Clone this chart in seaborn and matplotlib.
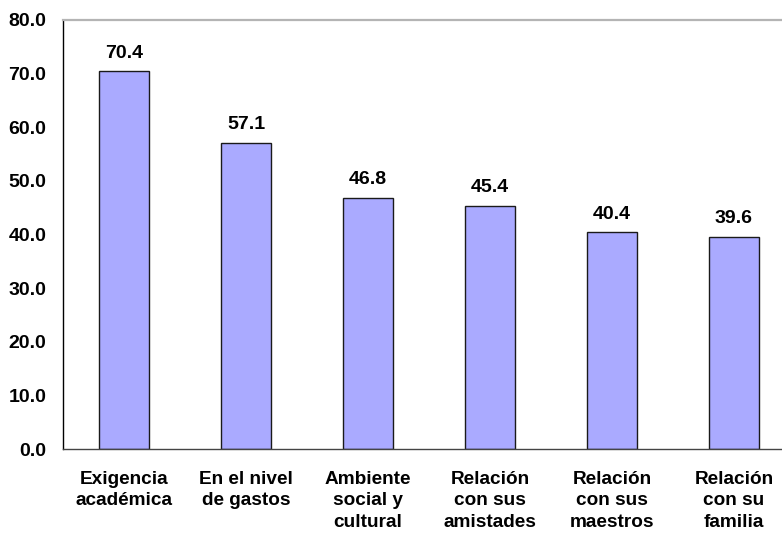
import matplotlib
matplotlib.use("Agg")
import matplotlib.pyplot as plt
import seaborn as sns
import pandas as pd
from matplotlib.ticker import FixedLocator, FormatStrFormatter

categories = [
    "Exigencia\nacadémica",
    "En el nivel\nde gastos",
    "Ambiente\nsocial y\ncultural",
    "Relación\ncon sus\namistades",
    "Relación\ncon sus\nmaestros",
    "Relación\ncon su\nfamilia",
]
values = [70.4, 57.1, 46.8, 45.4, 40.4, 39.6]
y_ticks = [0, 10, 20, 30, 40, 50, 60, 70, 80]

sns.set_style("white")
plt.rcParams["font.family"] = ["Liberation Sans", "DejaVu Sans"]
plt.rcParams["font.weight"] = "bold"
plt.rcParams["text.color"] = "black"
plt.rcParams["xtick.color"] = "black"
plt.rcParams["ytick.color"] = "black"

df = pd.DataFrame({"categoria": categories, "valor": values})

fig = plt.figure(figsize=(7.82, 5.35), dpi=100)
ax = fig.add_axes([63 / 782, 1 - 449 / 535, (795 - 63) / 782, (449 - 20) / 535])

sns.barplot(data=df, x="categoria", y="valor", ax=ax, color="#AAAAFF",
            saturation=1, width=0.41, edgecolor="#1a1a1a", linewidth=1.0)

ax.set_ylim(0, 80)
ax.set_xlim(-0.5, len(categories) - 0.5)
ax.yaxis.set_major_locator(FixedLocator(y_ticks))
ax.yaxis.set_major_formatter(FormatStrFormatter("%.1f"))
ax.set_xlabel("")
ax.set_ylabel("")

# category ticks sit between the bars
ax.set_xticks(range(len(categories)))
ax.set_xticklabels(categories, fontsize=13.7, fontweight="bold", linespacing=1.32,
                   color="black")
ax.set_xticks([i - 0.5 for i in range(len(categories) + 1)], minor=True)
ax.tick_params(axis="x", which="major", length=0, pad=16)
ax.tick_params(axis="x", which="minor", length=5, width=1, color="#333333", direction="out")
ax.tick_params(axis="y", which="major", length=5, width=1, color="#000000",
               direction="out", pad=7, labelsize=14, labelcolor="black")
for lbl in ax.get_yticklabels():
    lbl.set_fontweight("bold")

for side in ("left", "bottom"):
    ax.spines[side].set_visible(True)
    ax.spines[side].set_linewidth(1.0)
ax.spines["left"].set_color("#000000")
ax.spines["bottom"].set_color("#444444")
ax.spines["right"].set_visible(False)
ax.spines["top"].set_visible(True)
ax.spines["top"].set_color("#B4B4B4")
ax.spines["top"].set_linewidth(1.6)

for i, v in enumerate(values):
    ax.annotate(f"{v:.1f}", (i, v), xytext=(0, 7), textcoords="offset points",
                ha="center", va="bottom", fontsize=14, fontweight="bold",
                color="black")

fig.savefig("out.png", dpi=100)
